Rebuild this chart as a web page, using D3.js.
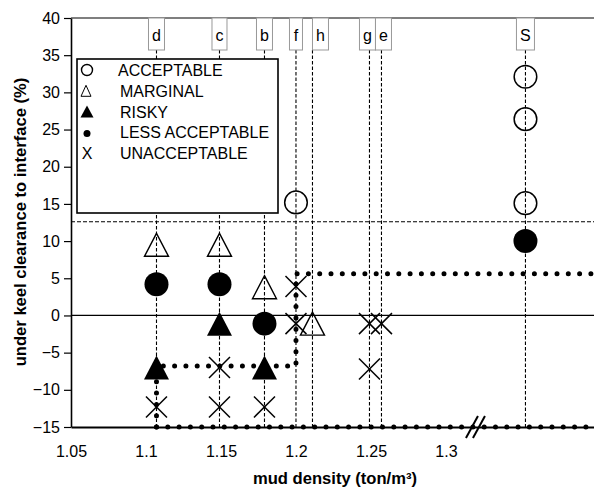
<!DOCTYPE html>
<html>
<head>
<meta charset="utf-8">
<script src="https://cdn.jsdelivr.net/npm/d3@7"></script>
<style>
  html, body { margin: 0; padding: 0; background: #fff; }
  svg { display: block; font-family: "Liberation Sans", Arial, sans-serif; }
</style>
</head>
<body>
<svg id="chart" width="594" height="488"></svg>
<script>
// ---- data -------------------------------------------------------------
const sites        = ["d", "c", "b", "f", "h", "g", "e", "S"];
const siteDensity  = [1.107, 1.149, 1.179, 1.2, 1.211, 1.249, 1.257, 1.353];

const xTicks       = [1.05, 1.1, 1.15, 1.2, 1.25, 1.3];
const xTickLabels  = ["1.05", "1.1", "1.15", "1.2", "1.25", "1.3"];
const yTicks       = [-15, -10, -5, 0, 5, 10, 15, 20, 25, 30, 35, 40];

const classNames   = ["ACCEPTABLE", "MARGINAL", "RISKY", "LESS ACCEPTABLE", "UNACCEPTABLE"];

// [site, under keel clearance to interface (%)]
const acceptable     = [["f", 15.2], ["S", 32.1], ["S", 26.4], ["S", 15.1]];
const marginal       = [["d", 9.5], ["c", 9.5], ["b", 3.8], ["h", -1.1]];
const risky          = [["d", -7.0], ["c", -1.1], ["b", -7.0]];
const lessAcceptable = [["d", 4.2], ["c", 4.2], ["b", -1.1], ["S", 10.0]];
const unacceptable   = [["d", -12.3], ["c", -7.0], ["c", -12.3], ["b", -12.3],
                        ["f", 3.9], ["f", -1.1], ["g", -1.1], ["g", -7.2], ["e", -1.1]];

// navigability limit (dotted) and floor
const limitDensity = [1.107, 1.107, 1.2, 1.2, 1.3987];
const limitUkc     = [-15, -6.8, -6.8, 5.6, 5.6];
const floorDensity = [1.107, 1.3987];
const floorUkc     = [-15, -15];
const thresholdUkc = 12.6;
const breakDensity = 1.32;

// ---- layout -------------------------------------------------------------
const svg = d3.select("#chart");
const plot = { left: 71, right: 594, top: 18, bottom: 427 };
const x = d3.scaleLinear().domain([1.05, 1.3987]).range([plot.left, plot.right]);
const y = d3.scaleLinear().domain([-15, 40]).range([plot.bottom, plot.top]);
const siteX = Object.fromEntries(sites.map((s, i) => [s, x(siteDensity[i])]));
const labelNudge = { h: 8, g: -2, e: 2 };
const labelBoxBottom = 50;

// ---- guide lines per site ----------------------------------------------
const guides = svg.append("g");
sites.forEach(s => {
  guides.append("line")
    .attr("x1", siteX[s]).attr("x2", siteX[s])
    .attr("y1", labelBoxBottom).attr("y2", plot.bottom)
    .attr("stroke", "#000").attr("stroke-width", 1.1)
    .attr("stroke-dasharray", "3.5,2");
});

// threshold dashed line and zero line
svg.append("line")
  .attr("x1", plot.left).attr("x2", plot.right)
  .attr("y1", y(thresholdUkc)).attr("y2", y(thresholdUkc))
  .attr("stroke", "#000").attr("stroke-width", 1.1).attr("stroke-dasharray", "4,2");
svg.append("line")
  .attr("x1", plot.left).attr("x2", plot.right)
  .attr("y1", y(0)).attr("y2", y(0))
  .attr("stroke", "#000").attr("stroke-width", 1.3);

// ---- axes -----------------------------------------------------------------
svg.append("line")
  .attr("x1", plot.left).attr("x2", plot.right)
  .attr("y1", plot.top).attr("y2", plot.top)
  .attr("stroke", "#000").attr("stroke-width", 1.2);

const yAxis = svg.append("g")
  .attr("transform", `translate(${plot.left},0)`)
  .call(d3.axisLeft(y).tickValues(yTicks).tickSize(7).tickPadding(4).tickSizeOuter(0));
yAxis.select(".domain").attr("stroke-width", 1.6);
yAxis.selectAll(".tick line").attr("stroke-width", 1.2);
yAxis.selectAll("text").attr("font-size", 16).attr("fill", "#000")
  .attr("font-family", "Liberation Sans, Arial, sans-serif");

const xAxis = svg.append("g")
  .attr("transform", `translate(0,${plot.bottom})`)
  .call(d3.axisBottom(x).tickValues(xTicks).tickSize(0).tickPadding(19)
        .tickFormat((d, i) => xTickLabels[i]));
xAxis.select(".domain").attr("stroke-width", 1.8);
xAxis.selectAll("text").attr("font-size", 16).attr("fill", "#000")
  .attr("font-family", "Liberation Sans, Arial, sans-serif");

// ---- dotted limit lines ------------------------------------------------
const lineGen = d3.line();
const dotted = (xs, ys) => {
  svg.append("path")
    .attr("d", lineGen(xs.map((v, i) => [x(v), y(ys[i])])))
    .attr("fill", "none").attr("stroke", "#000").attr("stroke-width", 5)
    .attr("stroke-linecap", "round").attr("stroke-dasharray", "0,11.3");
};
dotted(floorDensity, floorUkc);
dotted(limitDensity, limitUkc);

// axis break marks
const bx = x(breakDensity), by = plot.bottom;
[-4, 3].forEach(off => {
  svg.append("line")
    .attr("x1", bx + off - 6).attr("y1", by + 11)
    .attr("x2", bx + off + 6).attr("y2", by - 11)
    .attr("stroke", "#000").attr("stroke-width", 2);
});

// ---- site labels -------------------------------------------------------
sites.forEach(s => {
  const g = svg.append("g");
  const t = g.append("text")
    .attr("font-size", 16).attr("text-anchor", "middle").attr("fill", "#000")
    .text(s);
  const w = Math.max(13, Math.round(t.node().getComputedTextLength() + 7));
  const cx = siteX[s] + (labelNudge[s] || 0);
  g.insert("rect", "text")
    .attr("x", cx - w / 2).attr("y", plot.top)
    .attr("width", w).attr("height", labelBoxBottom - plot.top)
    .attr("fill", "#fff").attr("stroke", "#999").attr("stroke-width", 1);
  t.attr("x", cx).attr("y", 41);
});

// ---- markers ------------------------------------------------------------
const triPath = (w, h) => `M0,${-h / 2}L${w / 2},${h / 2}L${-w / 2},${h / 2}Z`;
const marks = svg.append("g");

acceptable.forEach(([s, v]) => {
  marks.append("circle").attr("cx", siteX[s]).attr("cy", y(v)).attr("r", 11.3)
    .attr("fill", "none").attr("stroke", "#000").attr("stroke-width", 1.5);
});
lessAcceptable.forEach(([s, v]) => {
  marks.append("circle").attr("cx", siteX[s]).attr("cy", y(v)).attr("r", 12)
    .attr("fill", "#000");
});
marginal.forEach(([s, v]) => {
  marks.append("path").attr("d", triPath(24, 23))
    .attr("transform", `translate(${siteX[s]},${y(v)})`)
    .attr("fill", "none").attr("stroke", "#000").attr("stroke-width", 1.4);
});
risky.forEach(([s, v]) => {
  marks.append("path").attr("d", triPath(25, 24))
    .attr("transform", `translate(${siteX[s]},${y(v)})`)
    .attr("fill", "#000");
});
unacceptable.forEach(([s, v]) => {
  const g = marks.append("g").attr("transform", `translate(${siteX[s]},${y(v)})`);
  g.append("line").attr("x1", -10.5).attr("y1", -10.5).attr("x2", 10.5).attr("y2", 10.5);
  g.append("line").attr("x1", -10.5).attr("y1", 10.5).attr("x2", 10.5).attr("y2", -10.5);
  g.selectAll("line").attr("stroke", "#000").attr("stroke-width", 1.5);
});

// ---- legend -------------------------------------------------------------
const legend = svg.append("g");
legend.append("rect").attr("x", 77).attr("y", 59).attr("width", 201).attr("height", 154)
  .attr("fill", "#fff").attr("stroke", "#000").attr("stroke-width", 1.6);
const rowY = i => 70 + i * 20.8;
const symX = 87;
// ○
legend.append("circle").attr("cx", symX).attr("cy", rowY(0)).attr("r", 5.5)
  .attr("fill", "none").attr("stroke", "#000").attr("stroke-width", 1.4);
// Δ
legend.append("path").attr("d", triPath(10, 11))
  .attr("transform", `translate(${symX - 1},${rowY(1)})`)
  .attr("fill", "none").attr("stroke", "#000").attr("stroke-width", 1);
// ▲
legend.append("path").attr("d", triPath(13, 12))
  .attr("transform", `translate(${symX},${rowY(2)})`).attr("fill", "#000");
// ●
legend.append("circle").attr("cx", symX).attr("cy", rowY(3) + 1).attr("r", 3.5).attr("fill", "#000");
// X
legend.append("text").attr("x", symX).attr("y", rowY(4) + 6)
  .attr("font-size", 16).attr("text-anchor", "middle").text("X");

classNames.forEach((name, i) => {
  legend.append("text").attr("x", i === 0 ? 118 : 120).attr("y", rowY(i) + 6)
    .attr("font-size", 16).attr("fill", "#000").text(name);
});

// ---- axis titles --------------------------------------------------------
svg.append("text")
  .attr("transform", `translate(26,222) rotate(-90)`)
  .attr("text-anchor", "middle").attr("font-size", 16.6).attr("font-weight", "bold")
  .text("under keel clearance to interface (%)");
svg.append("text")
  .attr("x", 335).attr("y", 484)
  .attr("text-anchor", "middle").attr("font-size", 16.6).attr("font-weight", "bold")
  .text("mud density (ton/m³)");
</script>
</body>
</html>
